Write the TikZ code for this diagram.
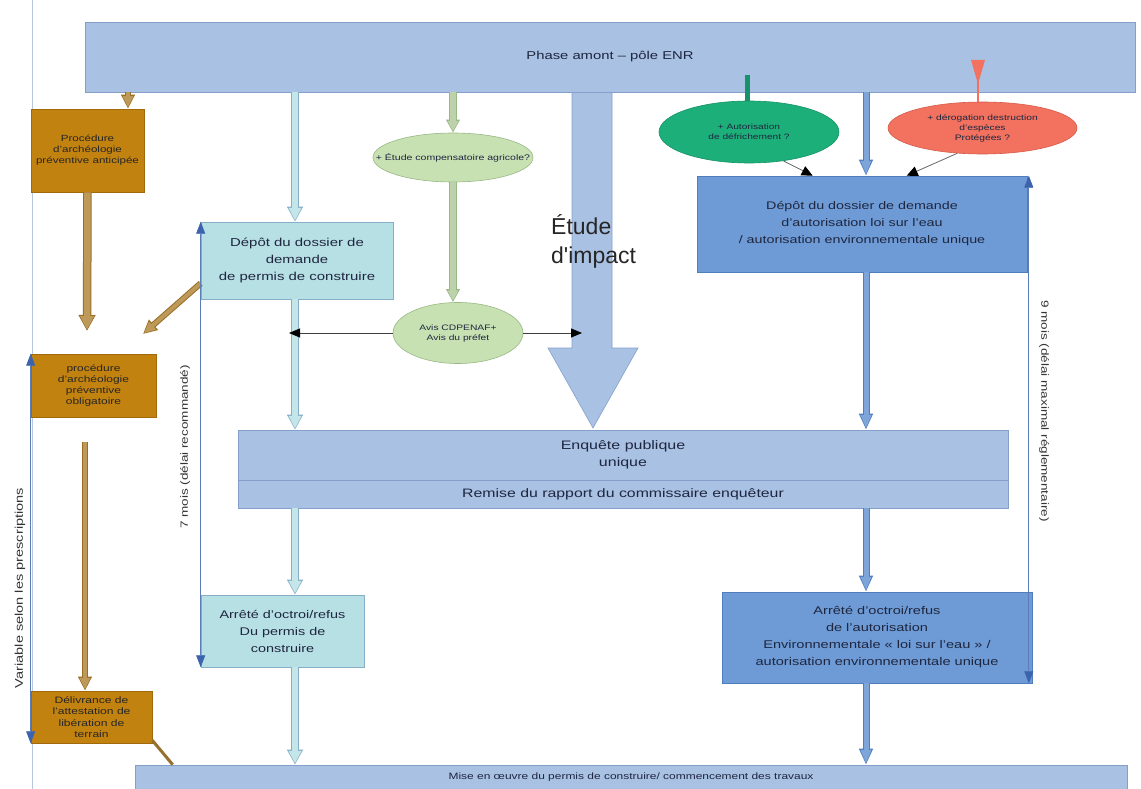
\documentclass[tikz,border=0pt]{standalone}
\usepackage{fontspec}
\setmainfont[FakeStretch=1.3]{Liberation Sans}
\newfontfamily\plainsans{Liberation Sans}
\usetikzlibrary{arrows.meta,shapes.geometric,calc}
\definecolor{txt}{HTML}{1E2640}
\definecolor{lbfill}{HTML}{A9C1E3}
\definecolor{lbline}{HTML}{859FCB}
\definecolor{cyfill}{HTML}{B7E0E4}
\definecolor{cyline}{HTML}{86AEC6}
\definecolor{mbfill}{HTML}{6E9BD5}
\definecolor{mbline}{HTML}{4F7EBE}
\definecolor{brfill}{HTML}{C2820F}
\definecolor{brline}{HTML}{A06A0C}
\definecolor{lgfill}{HTML}{C8E1B2}
\definecolor{lgline}{HTML}{98B886}
\definecolor{tealfill}{HTML}{1DAF79}
\definecolor{tealline}{HTML}{16936A}
\definecolor{redfill}{HTML}{F2725F}
\definecolor{redline}{HTML}{D65A48}
\definecolor{tline}{HTML}{5A7DB8}
\definecolor{ttip}{HTML}{3C64AE}
\newcommand\myfs[2]{\fontsize{#1}{#2}\selectfont}
\begin{document}
\begin{tikzpicture}[x=1pt,y=-1pt,
  every node/.style={inner sep=0pt, align=center, text=txt},
  lbbox/.style={draw=lbline, fill=lbfill, line width=0.6pt},
  cybox/.style={draw=cyline, fill=cyfill, line width=0.6pt},
  mbbox/.style={draw=mbline, fill=mbfill, line width=0.6pt},
  brbox/.style={draw=brline, fill=brfill, line width=0.6pt, text=black!85},
  lgell/.style={ellipse, draw=lgline, fill=lgfill, line width=0.6pt},
  cyarr/.style={preaction={draw=cyline, line width=8pt, shorten >=0pt, -{Triangle[length=15pt,width=15pt]}},
    draw=cyfill!80!white, line width=5.5pt, shorten >=1.3pt, -{Triangle[length=12.5pt,width=12pt]}},
  grarr/.style={preaction={draw=lgline, line width=8pt, shorten >=0pt, -{Triangle[length=13pt,width=13pt]}},
    draw=lgfill!85!gray, line width=5.5pt, shorten >=1.3pt, -{Triangle[length=10.5pt,width=10pt]}},
  mbarr/.style={preaction={draw=mbline, line width=7pt, shorten >=0pt, -{Triangle[length=16pt,width=13pt]}},
    draw=mbfill!90!white, line width=5pt, shorten >=1.3pt, -{Triangle[length=13.5pt,width=10pt]}},
  brarr/.style={preaction={draw=brline!80!gray, line width=8.5pt, shorten >=0pt, -{Triangle[length=16pt,width=16pt]}},
    draw=brfill!70!gray!80!white, line width=6.5pt, shorten >=1.3pt, -{Triangle[length=13.5pt,width=13pt]}},
  brthin/.style={preaction={draw=brline!80!gray, line width=6pt, shorten >=0pt, -{Triangle[length=14pt,width=13pt]}},
    draw=brfill!70!gray!80!white, line width=4pt, shorten >=1.3pt, -{Triangle[length=11.5pt,width=10pt]}},
  thinblk/.style={draw=black!60, line width=0.8pt, -{Triangle[length=11pt,width=10pt,color=black]}},
  dblblk/.style={draw=black!75, line width=0.8pt, -{Triangle[length=11pt,width=9pt,color=black]}},
  timeline/.style={draw=tline, line width=0.7pt, {Triangle[length=12pt,width=9pt,color=ttip]}-{Triangle[length=12pt,width=9pt,color=ttip]}},
  rottext/.style={text=black!80}
]
\useasboundingbox (0,0) rectangle (1141,789);
\fill[white] (0,0) rectangle (1141,789);
% page edge line
\draw[draw=lbline!60, line width=0.6pt] (32,0) -- (32,789);

% coordinates for free ends
\coordinate (cx) at (295,0);
\coordinate (gx) at (453,0);
\coordinate (bx) at (866,0);
\coordinate (dl) at (289,333);
\coordinate (dr) at (582,333);
\coordinate (b1end) at (87,331);
\coordinate (b2start) at (85,442);
\coordinate (diagend) at (143,334);
\coordinate (tealtop) at (747,75);
\coordinate (redtop) at (978,60);

% big "Etude d'impact" arrow
\filldraw[fill=lbfill, draw=lbline, line width=0.6pt] (572,92) -- (572,348) -- (548,348) -- (593,428) -- (638,348) -- (612,348) -- (612,92);
\node[anchor=west, align=left, font=\plainsans\myfs{23}{29}, text=black!85] (etude) at (551,241) {Étude\\d'impact};

% nodes
\node[lbbox, minimum width=1050pt, minimum height=70pt, font=\myfs{11.4}{13}] (top) at (610,57) {Phase amont – pôle ENR};
\node[brbox, minimum width=113pt, minimum height=83pt, font=\myfs{8.9}{11}] (b1) at (87.5,150.5) {Procédure\\d'archéologie\\préventive anticipée};
\node[brbox, minimum width=125pt, minimum height=63pt, font=\myfs{9.2}{11}] (b2) at (93.5,385.5) {procédure\\d'archéologie\\préventive\\obligatoire};
\node[brbox, minimum width=121pt, minimum height=52pt, font=\myfs{9.3}{11.5}] (b3) at (91.5,717) {Délivrance de\\l'attestation de\\libération de\\terrain};
\node[cybox, minimum width=192pt, minimum height=77pt, font=\myfs{11.5}{17}] (pc) at (297,260.5) {Dépôt du dossier de\\demande\\de permis de construire};
\node[lgell, minimum width=160pt, minimum height=49pt, label={[font=\myfs{8.1}{10}]center:+ Étude compensatoire agricole?}] (e1) at (453,157.5) {};
\node[lgell, minimum width=130pt, minimum height=61pt, font=\myfs{7.9}{10}] (avis) at (458,333) {Avis CDPENAF+\\Avis du préfet};
\node[ellipse, draw=tealline, fill=tealfill, line width=0.6pt, minimum width=180pt, minimum height=62pt, font=\myfs{7.8}{10}] (defr) at (749,132) {+ Autorisation\\de défrichement ?};
\node[ellipse, draw=redline, fill=redfill, line width=0.6pt, minimum width=189pt, minimum height=52pt, font=\myfs{7.9}{10}] (derog) at (982.5,128) {+ dérogation destruction\\d'espèces\\Protégées ?};
\node[mbbox, minimum width=330pt, minimum height=96pt, font=\myfs{11}{17}] (ae) at (862,224) {Dépôt du dossier de demande\\d'autorisation loi sur l'eau\\/ autorisation environnementale unique};
\node[lbbox, minimum width=770pt, minimum height=50pt, font=\myfs{12.3}{17}] (enq) at (623,455) {Enquête publique\\unique};
\node[lbbox, minimum width=770pt, minimum height=28pt, font=\myfs{12.2}{13}] (rap) at (623,494) {Remise du rapport du commissaire enquêteur};
\node[cybox, minimum width=163pt, minimum height=72pt, font=\myfs{11.1}{17}] (apc) at (282.5,631) {Arrêté d'octroi/refus\\Du permis de\\construire};
\node[mbbox, minimum width=310pt, minimum height=91pt, font=\myfs{11.2}{17}] (aae) at (877,637.5) {Arrêté d'octroi/refus\\de l'autorisation\\Environnementale « loi sur l'eau » /\\autorisation environnementale unique};
\node[lbbox, minimum width=992pt, minimum height=24pt, font=\myfs{9.2}{10}] (bot) at (631,777) {Mise en œuvre du permis de construire/ commencement des travaux};

% rotated labels
\node[rottext, rotate=90, font=\myfs{11.2}{12}] (var) at (20,588) {Variable selon les prescriptions};
\node[rottext, rotate=90, font=\myfs{10.4}{12}] (sept) at (185,447) {7 mois (délai recommandé)};
\node[rottext, rotate=-90, font=\myfs{10.4}{12}] (neuf) at (1044,411) {9 mois (délai maximal réglementaire)};

% light cyan arrows
\draw[cyarr] (top.south -| cx) -- (pc.north -| cx);
\draw[cyarr] (pc.south -| cx) -- (enq.north -| cx);
\draw[cyarr] (rap.south -| cx) -- (apc.north -| cx);
\draw[cyarr] (apc.south -| cx) -- (bot.north -| cx);
% green arrows
\draw[grarr] (top.south -| gx) -- (e1.north -| gx);
\draw[grarr] (e1.south -| gx) -- (avis.north -| gx);
% medium blue arrows
\draw[mbarr] (top.south -| bx) -- (ae.north -| bx);
\draw[mbarr] (ae.south -| bx) -- (enq.north -| bx);
\draw[mbarr] (rap.south -| bx) -- (aae.north -| bx);
\draw[mbarr] (aae.south -| bx) -- (bot.north -| bx);
% brown arrows
\draw[brthin] (top.south -| 128,0) -- (b1.north -| 128,0);
\draw[brarr] (b1.south) -- (b1end);
\draw[brthin] ([yshift=16pt]pc.south west) -- (diagend);
\draw[brthin] (b2start) -- (b3.north -| b2start);
\draw[draw=brline!70!gray, line width=3pt] ([yshift=3pt]b3.south east) -- ([xshift=38pt]bot.north west);
% teal and red stubs
\draw[draw=tealline, line width=5pt] (tealtop) -- (defr.north -| tealtop);
\fill[redfill] (971,60) -- (985,60) -- (978,84) -- cycle;
\draw[draw=redfill, line width=2pt] (978,80) -- (derog.north -| redtop);
% thin black arrows
\draw[thinblk] (defr.-40) -- ([xshift=116pt]ae.north west);
\draw[thinblk] (derog.-135) -- ([xshift=210pt]ae.north west);
% black double arrow from the Avis ellipse
\draw[dblblk] (avis.west) -- (dl);
\draw[dblblk] (avis.east) -- (dr);
% timing lines
\draw[timeline] (b2.north west) -- (b3.south west);
\draw[timeline] (pc.north west) -- (apc.south west);
\draw[timeline] ([xshift=1.5pt]ae.north east) -- ([xshift=1.5pt]ae.north east |- aae.south east);
\end{tikzpicture}
\end{document}
